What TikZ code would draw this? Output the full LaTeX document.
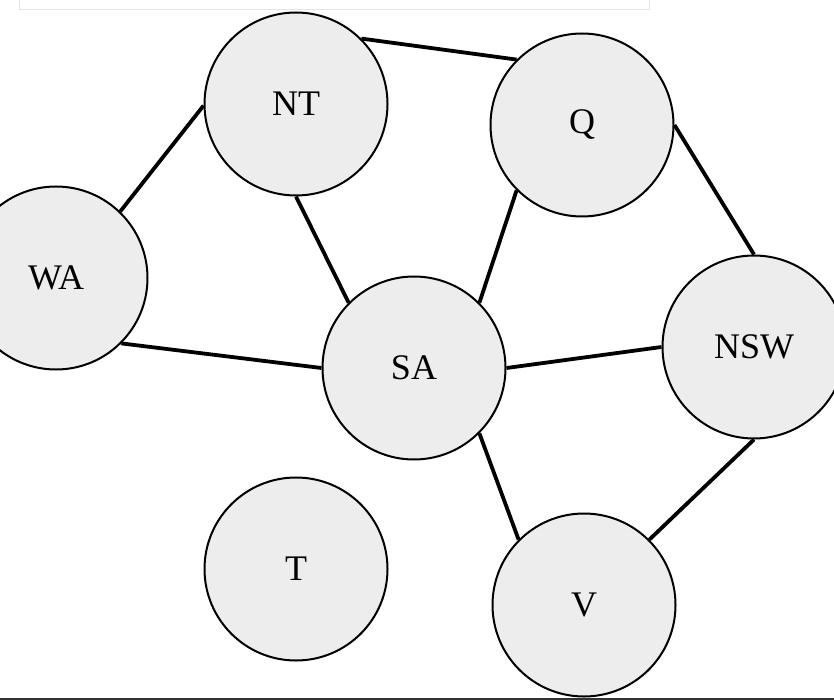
\documentclass[tikz,border=0pt]{standalone}
\usepackage{fontspec}
\setmainfont{Liberation Serif}
\definecolor{nodefill}{HTML}{EDEDED}
\definecolor{framegray}{HTML}{E4E4E4}
\definecolor{bardark}{HTML}{333333}
\begin{document}
\begin{tikzpicture}[x=1pt,y=-1pt,
  region/.style={circle,draw=black,line width=2pt,fill=nodefill,minimum size=183pt,inner sep=0pt,font=\fontsize{36}{40}\selectfont},
  link/.style={line width=3.8pt,black}]
\useasboundingbox (0,0) rectangle (834,700);
% faint frame at top
\draw[framegray,line width=1pt] (19,0) -- (19,10) -- (649,10) -- (649,0);
% dark bar at bottom
\fill[bardark] (0,697.5) rectangle (834,700);
\node[region] (NT) at (296,104) {NT};
\node[region] (Q) at (582,125) {Q};
\node[region] (WA) at (56,278) {WA};
\node[region] (SA) at (414,368) {SA};
\node[region] (NSW) at (754,347) {NSW};
\node[region] (T) at (296,569) {T};
\node[region] (V) at (584,605) {V};
\draw[link] (WA.46) -- (NT.181);
\draw[link] (WA.-45) -- (SA.180);
\draw[link] (NT.-90) -- (SA.135);
\draw[link] (NT.45) -- (Q.135);
\draw[link] (Q.225) -- (SA.45);
\draw[link] (Q.0) -- (NSW.90);
\draw[link] (SA.0) -- (NSW.180);
\draw[link] (SA.-45) -- (V.135);
\draw[link] (NSW.-90) -- (V.45);
\end{tikzpicture}
\end{document}
